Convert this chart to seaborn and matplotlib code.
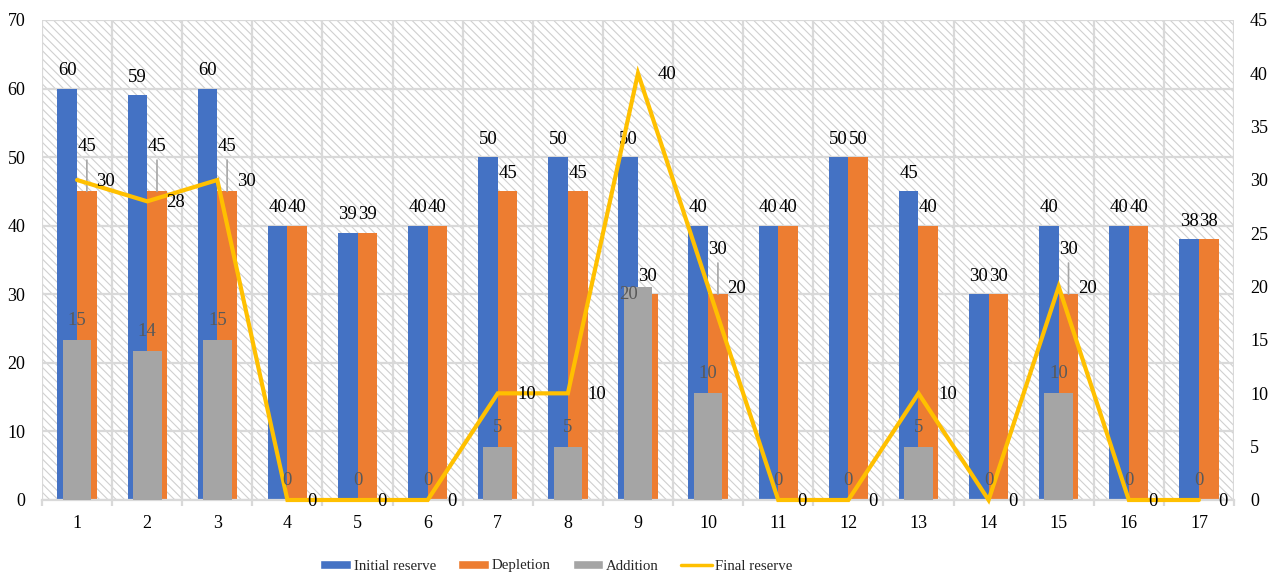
import numpy as np
import pandas as pd
import matplotlib
matplotlib.use("Agg")
import matplotlib.pyplot as plt
import seaborn as sns
from matplotlib.patches import Patch
from matplotlib.lines import Line2D

# ---- data ----
categories = [str(i) for i in range(1, 18)]
initial_reserve = [60, 59, 60, 40, 39, 40, 50, 50, 50, 40, 40, 50, 45, 30, 40, 40, 38]
depletion = [45, 45, 45, 40, 39, 40, 45, 45, 30, 30, 40, 50, 40, 30, 30, 40, 38]
addition = [15, 14, 15, 0, 0, 0, 5, 5, 20, 10, 0, 0, 5, 0, 10, 0, 0]
final_reserve = [30, 28, 30, 0, 0, 0, 10, 10, 40, 20, 0, 0, 10, 0, 20, 0, 0]

# ---- style ----
BLUE, ORANGE, GRAY, YELLOW = "#4472C4", "#ED7D31", "#A5A5A5", "#FFC000"
GRID = "#d9d9d9"
FS = 13          # axis tick labels
FS_LAB = 13.5    # data labels
FS_LEG = 10.7    # legend

sns.set_theme(style="white")
plt.rcParams["font.family"] = ["Liberation Serif", "DejaVu Serif"]
plt.rcParams["hatch.color"] = "#d0d0d0"
plt.rcParams["hatch.linewidth"] = 0.8

fig = plt.figure(figsize=(12.79, 5.79), dpi=100)
ax = fig.add_axes([42 / 1279, 79 / 579, (1234 - 42) / 1279, 480 / 579])

# hatched plot-area background
ax.patch.set_facecolor("white")
ax.patch.set_hatch("\\\\\\\\")
ax.patch.set_edgecolor("#d0d0d0")
ax.patch.set_linewidth(0)

long_df = pd.DataFrame({
    "cat": categories * 2,
    "value": initial_reserve + depletion,
    "series": ["Initial reserve"] * len(categories) + ["Depletion"] * len(categories),
})
sns.barplot(data=long_df, x="cat", y="value", hue="series", order=categories,
            palette=[BLUE, ORANGE], width=0.56, gap=0, ax=ax, legend=False,
            saturation=1, linewidth=0, err_kws={"linewidth": 0})

ax.set_xlim(-0.5, len(categories) - 0.5)
ax.set_ylim(0, 70)
ax.set_yticks(np.arange(0, 71, 10))
ax.set_xlabel("")
ax.set_ylabel("")
ax.set_axisbelow(True)
ax.grid(True, axis="y", which="major", color=GRID, lw=1.6)
ax.set_xticks(np.arange(-0.5, len(categories), 1), minor=True)
ax.grid(True, axis="x", which="minor", color=GRID, lw=1.6)
ax.grid(False, axis="x", which="major")
for s in ["left", "right", "top"]:
    ax.spines[s].set_visible(False)
ax.spines["bottom"].set_color(GRID)
ax.spines["bottom"].set_linewidth(1.6)
ax.tick_params(axis="x", which="major", length=0, pad=11, labelsize=FS, colors="black")
ax.tick_params(axis="x", which="minor", length=4, width=1.6, color=GRID, bottom=True)
ax.tick_params(axis="y", length=0, pad=12, labelsize=FS, colors="black")

# value labels for initial reserve / depletion
leader_idx = {0, 1, 2, 9, 14}
blue_bars, orange_bars = ax.containers[0], ax.containers[1]
for bar in blue_bars:
    x = bar.get_x() + bar.get_width() / 2
    h = bar.get_height()
    ax.annotate(f"{h:g}", (x, h), xytext=(0, 13), textcoords="offset points",
                ha="center", va="center", fontsize=FS_LAB, color="black")
for i, bar in enumerate(orange_bars):
    x = bar.get_x() + bar.get_width() / 2
    h = bar.get_height()
    if i in leader_idx:
        ax.annotate(f"{h:g}", (x, h), xytext=(0, 32), textcoords="offset points",
                    ha="center", va="center", fontsize=FS_LAB, color="black",
                    arrowprops=dict(arrowstyle="-", color="#a6a6a6", lw=1.2,
                                    shrinkA=1, shrinkB=0))
    else:
        ax.annotate(f"{h:g}", (x, h), xytext=(0, 13), textcoords="offset points",
                    ha="center", va="center", fontsize=FS_LAB, color="black")

# secondary axis: addition bars and final reserve line
ax2 = ax.twinx()
sns.barplot(x=categories, y=addition, order=categories, color=GRAY, width=0.41,
            ax=ax2, saturation=1, linewidth=0, err_kws={"linewidth": 0})
sns.lineplot(x=np.arange(len(categories)), y=final_reserve, color=YELLOW, lw=3,
             ax=ax2, clip_on=False, solid_joinstyle="miter", zorder=3)
ax2.set_ylim(0, 45)
ax2.set_yticks(np.arange(0, 46, 5))
ax2.set_xlim(-0.5, len(categories) - 0.5)
ax2.set_ylabel("")
ax2.grid(False)
for s in ax2.spines.values():
    s.set_visible(False)
ax2.tick_params(axis="y", length=0, pad=11.5, labelsize=FS, colors="black")

gray_bars = ax2.containers[0]
for i, bar in enumerate(gray_bars):
    x = bar.get_x() + bar.get_width() / 2
    h = bar.get_height()
    off = (-6.5, -6) if i == 8 else (0, 14)
    ax2.annotate(f"{h:g}", (x, h), xytext=off, textcoords="offset points",
                 ha="center", va="center", fontsize=FS_LAB, color="#595959", zorder=4)

for i, v in enumerate(final_reserve):
    ax2.annotate(f"{v:g}", (i, v), xytext=(14, -1), textcoords="offset points",
                 ha="left", va="center", fontsize=FS_LAB, color="black", zorder=4,
                 annotation_clip=False)

handles = [
    Patch(facecolor=BLUE, label="Initial reserve"),
    Patch(facecolor=ORANGE, label="Depletion"),
    Patch(facecolor=GRAY, label="Addition"),
    Line2D([0], [0], color=YELLOW, lw=2.5, label="Final reserve"),
]
fig.legend(handles=handles, loc="center", bbox_to_anchor=(556 / 1279, 1 - 566 / 579),
           ncol=4, frameon=False, fontsize=FS_LEG, handlelength=2.05, handleheight=0.6,
           handletextpad=0.2, columnspacing=1.5)

fig.savefig("out.png", dpi=100)
